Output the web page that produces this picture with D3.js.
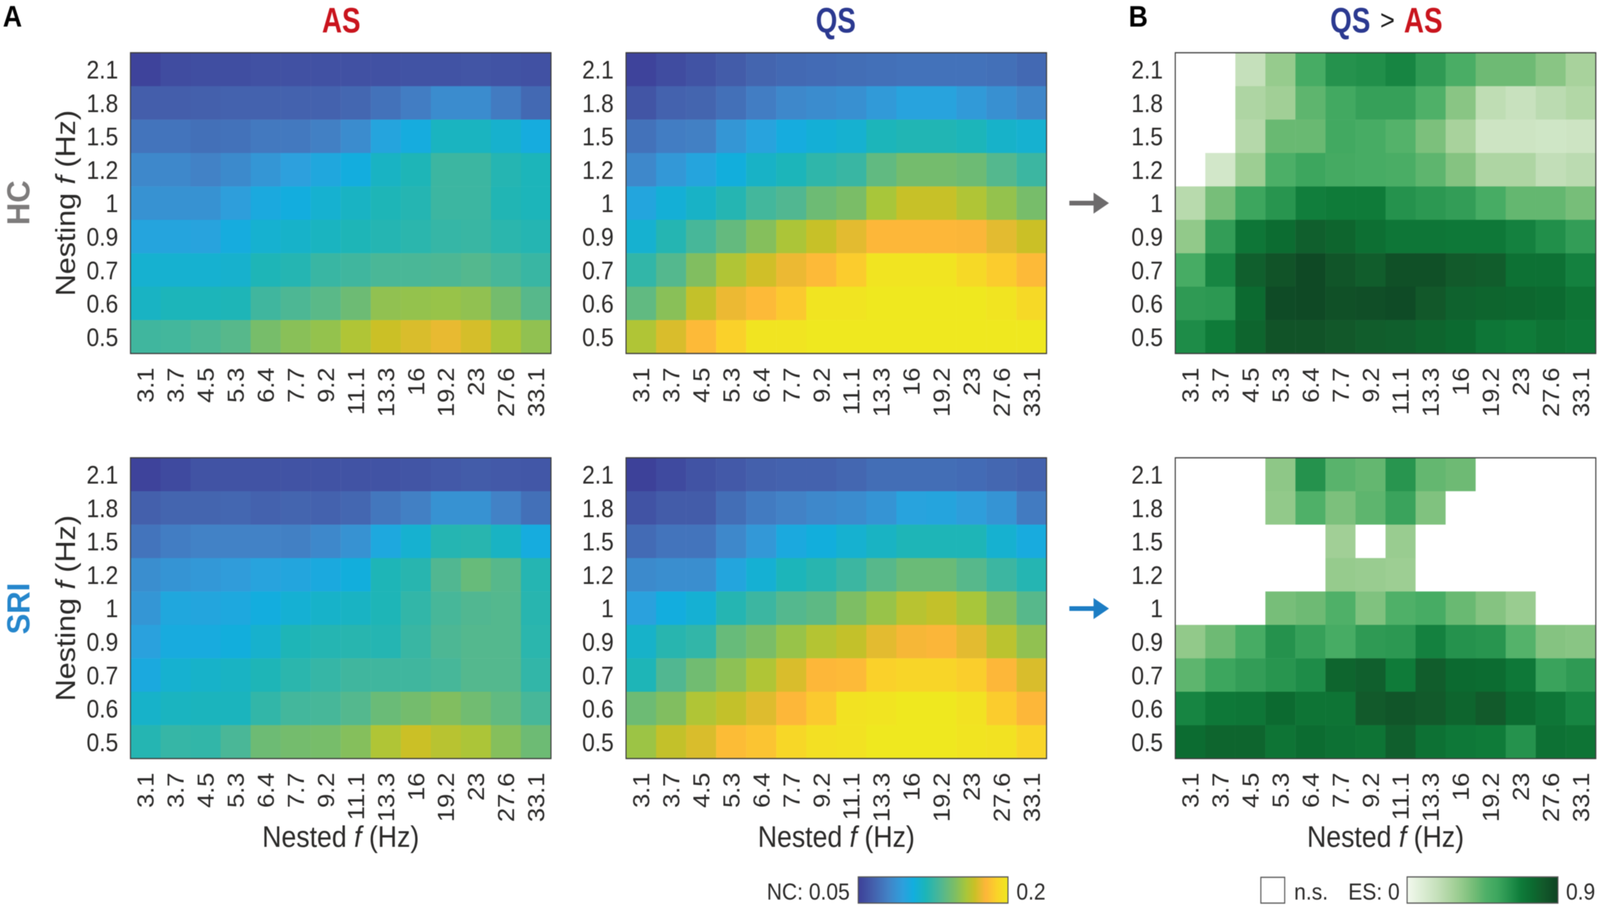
<!DOCTYPE html>
<html>
<head>
<meta charset="utf-8">
<script src="https://cdn.jsdelivr.net/npm/d3@7"></script>
<style>
html, body { margin: 0; padding: 0; background: #fff; overflow: hidden; }
svg { display: block; width: 100vw; height: 100vh; filter: blur(1.3px); }
text { font-family: "Liberation Sans", Arial, sans-serif; fill: #2b2a29; }
</style>
</head>
<body>
<svg viewBox="0 0 4562 2322" preserveAspectRatio="none"></svg>
<script>
var nestedFreq = ["3.1","3.7","4.5","5.3","6.4","7.7","9.2","11.1","13.3","16","19.2","23","27.6","33.1"];
var nestingFreq = ["2.1","1.8","1.5","1.2","1","0.9","0.7","0.6","0.5"];

// NC values, rows from 2.1 Hz down to 0.5 Hz
var asHC = [
  [.052,.056,.057,.057,.058,.058,.058,.058,.058,.059,.059,.060,.059,.058],
  [.064,.064,.065,.066,.066,.066,.066,.068,.073,.078,.085,.085,.077,.069],
  [.074,.074,.072,.073,.076,.076,.079,.085,.098,.104,.115,.115,.111,.104],
  [.083,.083,.080,.084,.090,.095,.100,.105,.114,.118,.127,.127,.120,.117],
  [.088,.088,.088,.094,.102,.105,.110,.114,.118,.120,.127,.127,.119,.117],
  [.098,.098,.097,.104,.110,.112,.115,.118,.120,.122,.125,.126,.122,.120],
  [.110,.110,.110,.111,.118,.120,.126,.128,.131,.131,.132,.134,.130,.126],
  [.114,.117,.117,.118,.128,.132,.136,.142,.152,.153,.154,.152,.144,.135],
  [.128,.129,.132,.135,.145,.150,.153,.160,.167,.170,.173,.169,.159,.152]
];
var qsHC = [
  [.052,.056,.059,.063,.067,.069,.070,.071,.072,.073,.073,.073,.072,.069],
  [.060,.066,.067,.072,.078,.083,.085,.087,.092,.097,.097,.092,.087,.082],
  [.073,.078,.079,.090,.097,.104,.108,.110,.117,.119,.119,.117,.112,.110],
  [.083,.091,.098,.106,.113,.117,.123,.126,.138,.144,.144,.142,.134,.127],
  [.099,.108,.113,.120,.129,.133,.142,.146,.158,.166,.166,.160,.153,.145],
  [.110,.120,.130,.139,.149,.159,.166,.172,.178,.178,.178,.177,.172,.167],
  [.124,.134,.148,.160,.168,.174,.179,.186,.198,.198,.198,.192,.186,.179],
  [.138,.150,.165,.174,.179,.185,.198,.198,.200,.200,.200,.200,.198,.192],
  [.160,.170,.179,.188,.198,.198,.200,.200,.200,.200,.200,.200,.200,.200]
];
var asSRI = [
  [.052,.055,.059,.059,.059,.059,.059,.059,.059,.060,.062,.063,.062,.061],
  [.065,.067,.067,.068,.066,.067,.066,.068,.075,.079,.088,.088,.080,.072],
  [.074,.078,.080,.080,.080,.079,.083,.088,.101,.110,.120,.121,.114,.104],
  [.086,.089,.091,.093,.097,.099,.102,.106,.118,.121,.133,.140,.135,.120],
  [.090,.100,.099,.101,.105,.109,.112,.114,.118,.124,.130,.133,.134,.121],
  [.096,.103,.103,.106,.111,.118,.120,.121,.120,.126,.132,.134,.134,.122],
  [.102,.110,.112,.114,.118,.122,.125,.128,.128,.128,.130,.134,.134,.124],
  [.112,.115,.116,.116,.124,.129,.130,.134,.141,.144,.148,.143,.138,.130],
  [.120,.125,.124,.131,.142,.144,.145,.149,.160,.167,.162,.159,.149,.142]
];
var qsSRI = [
  [.051,.055,.059,.062,.065,.066,.066,.068,.071,.071,.071,.070,.068,.066],
  [.059,.063,.063,.071,.077,.080,.083,.085,.089,.097,.098,.094,.089,.077],
  [.070,.074,.074,.083,.091,.102,.106,.110,.114,.118,.118,.118,.110,.103],
  [.084,.086,.086,.099,.109,.117,.121,.127,.135,.141,.141,.135,.127,.120],
  [.096,.105,.109,.120,.127,.134,.137,.147,.154,.162,.165,.158,.147,.135],
  [.112,.121,.124,.140,.146,.154,.161,.165,.172,.176,.177,.172,.163,.152],
  [.118,.133,.143,.151,.160,.170,.178,.179,.188,.190,.190,.187,.178,.170],
  [.142,.148,.160,.165,.171,.178,.185,.197,.198,.200,.200,.197,.186,.178],
  [.155,.165,.170,.180,.183,.191,.196,.197,.200,.200,.200,.198,.197,.190]
];

// effect sizes, null = n.s.
var esHC = [
  [null,null,.18,.32,.50,.61,.62,.65,.58,.49,.41,.41,.35,.27],
  [null,null,.25,.29,.44,.52,.56,.56,.47,.35,.20,.17,.21,.24],
  [null,null,.23,.42,.42,.52,.50,.46,.38,.27,.15,.15,.14,.15],
  [null,.13,.30,.48,.54,.51,.50,.49,.44,.36,.25,.25,.19,.21],
  [.22,.39,.54,.60,.67,.68,.68,.61,.59,.57,.50,.43,.43,.39],
  [.33,.57,.70,.74,.79,.77,.73,.70,.70,.69,.69,.66,.62,.57],
  [.50,.65,.79,.84,.88,.83,.80,.85,.85,.81,.80,.72,.72,.66],
  [.58,.59,.75,.87,.88,.85,.86,.87,.82,.78,.77,.76,.75,.71],
  [.63,.68,.77,.84,.84,.82,.80,.79,.77,.75,.70,.68,.71,.69]
];
var esSRI = [
  [null,null,null,.34,.61,.45,.43,.60,.43,.41,null,null,null,null],
  [null,null,null,.33,.47,.38,.44,.55,.37,null,null,null,null,null],
  [null,null,null,null,null,.29,null,.31,null,null,null,null,null,null],
  [null,null,null,null,null,.32,.31,.30,null,null,null,null,null,null],
  [null,null,null,.39,.41,.47,.37,.47,.50,.42,.36,.31,null,null],
  [.33,.41,.50,.61,.56,.50,.58,.59,.66,.61,.60,.46,.36,.35],
  [.44,.54,.57,.60,.63,.77,.79,.68,.80,.75,.74,.69,.55,.58],
  [.65,.69,.70,.75,.71,.71,.81,.83,.81,.77,.81,.74,.70,.65],
  [.74,.77,.77,.71,.74,.72,.71,.79,.72,.69,.68,.61,.72,.71]
];

var ncDomain = [.05,.065,.08,.095,.1055,.1175,.1325,.1475,.158,.167,.1775,.188,.2];
var ncColors = ["#3d3f98","#4460ac","#4282c6","#2da0dd","#12aede","#1cb5b8","#4fb793","#7fbe62","#a8c63a","#cbc026","#fdb63a","#fad12a","#efe81f"];
var esDomain = [0,.09,.18,.27,.33,.40,.47,.54,.63,.675,.75,.81,.9];
var esColors = ["#f3f9ee","#dcedd4","#c5e0bb","#a8d29c","#92c98a","#73bc76","#4fb068","#3da65e","#1e8c48","#0f7c3a","#0c6a30","#125a2b","#0e4423"];

var ncColor = d3.scaleLinear().domain(ncDomain).range(ncColors);
var esColor = d3.scaleLinear().domain(esDomain).range(esColors);

var svg = d3.select("svg");
var panelW = 1199, panelH = 770;

function heatmap(left, top, values, color, yTitle, xTitle) {
    var xScale = d3.scaleBand().domain(nestedFreq).range([0, panelW]);
    var yScale = d3.scaleBand().domain(nestingFreq).range([0, panelH]);
    var g = svg.append("g").attr("transform", "translate(" + left + "," + top + ")");

    values.forEach(function(row, i) {
        g.selectAll(".r" + i)
            .data(row)
            .enter().append("rect")
            .attr("x", function(d, j) { return xScale(nestedFreq[j]); })
            .attr("y", yScale(nestingFreq[i]))
            .attr("width", xScale.bandwidth() + 0.5)
            .attr("height", yScale.bandwidth() + 0.5)
            .attr("fill", function(d) { return d === null ? "#fff" : color(d); });
    });

    g.append("rect")
        .attr("width", panelW).attr("height", panelH)
        .attr("fill", "none").attr("stroke", "#3c3c3c").attr("stroke-width", 3);

    var yAxis = g.append("g").call(d3.axisLeft(yScale).tickSize(0).tickPadding(35));
    yAxis.select(".domain").remove();
    yAxis.selectAll("text").attr("font-size", 65).style("font-family", "Liberation Sans").attr("dy", "0.36em");

    var xAxis = g.append("g").attr("transform", "translate(0," + panelH + ")")
        .call(d3.axisBottom(xScale).tickSize(0));
    xAxis.select(".domain").remove();
    xAxis.selectAll("text")
        .attr("font-size", 65)
        .style("font-family", "Liberation Sans")
        .attr("text-anchor", "end")
        .attr("transform", "rotate(-90)")
        .attr("x", -36).attr("y", 0).attr("dy", "0.36em");

    if (yTitle) {
        var t = g.append("text")
            .attr("transform", "translate(-158," + (panelH / 2) + ") rotate(-90)")
            .attr("text-anchor", "middle").attr("font-size", 78);
        t.append("tspan").text("Nesting ");
        t.append("tspan").attr("font-style", "italic").text("f");
        t.append("tspan").text(" (Hz)");
    }
    if (xTitle) {
        var t2 = g.append("text")
            .attr("x", panelW / 2).attr("y", panelH + 226)
            .attr("text-anchor", "middle").attr("font-size", 76);
        t2.append("tspan").text("Nested ");
        t2.append("tspan").attr("font-style", "italic").text("f");
        t2.append("tspan").text(" (Hz)");
    }
}

var col1 = 372, col2 = 1785, col3 = 3351, row1 = 135, row2 = 1172;
heatmap(col1, row1, asHC, ncColor, true, false);
heatmap(col2, row1, qsHC, ncColor, false, false);
heatmap(col3, row1, esHC, esColor, false, false);
heatmap(col1, row2, asSRI, ncColor, true, true);
heatmap(col2, row2, qsSRI, ncColor, false, true);
heatmap(col3, row2, esSRI, esColor, false, true);

function label(x, y, str, size, fill, anchor) {
    return svg.append("text").attr("x", x).attr("y", y).text(str)
        .attr("font-size", size)
        .attr("text-anchor", anchor || "start")
        .style("fill", fill);
}

// condensed bold headings, there is no narrow font to use
function heading(x, y, str, fill, rotate) {
    svg.append("text")
        .attr("transform", "translate(" + x + "," + y + ")" + (rotate ? " rotate(-90)" : "") + " scale(0.88,1)")
        .attr("text-anchor", "middle")
        .attr("font-size", 90)
        .attr("font-weight", "bold")
        .style("fill", fill)
        .text(str);
}

// panel letters and column titles
label(8, 68, "A", 76, "#000").attr("font-weight", "bold");
label(3218, 68, "B", 76, "#000").attr("font-weight", "bold");
heading(973, 83, "AS", "#c9141d");
heading(2383, 83, "QS", "#2b3990");
heading(3850, 83, "QS", "#2b3990");
label(3956, 76, ">", 72, "#1a1a1a", "middle");
heading(4058, 83, "AS", "#c9141d");

// row labels
heading(83, 519, "HC", "#7d7b7b", true);
heading(83, 1558, "SRI", "#2586cc", true);

// arrows between the panels
function arrow(y, fill) {
    svg.append("rect").attr("x", 3049).attr("y", y - 6).attr("width", 75).attr("height", 12).attr("fill", fill);
    svg.append("path").attr("d", "M3118," + (y - 27) + "L3162," + y + "L3118," + (y + 27) + "Z").attr("fill", fill);
}
arrow(520, "#6d6b6c");
arrow(1558, "#1c7dc4");

// colour bars
var defs = svg.append("defs");
function colorBar(id, x, y, w, h, domain, colors) {
    var scale = d3.scaleLinear().domain([domain[0], domain[domain.length - 1]]).range([0, 100]);
    var grad = defs.append("linearGradient").attr("id", id);
    grad.selectAll("stop").data(domain).enter().append("stop")
        .attr("offset", function(d) { return scale(d) + "%"; })
        .attr("stop-color", function(d, i) { return colors[i]; });
    svg.append("rect").attr("x", x).attr("y", y).attr("width", w).attr("height", h)
        .attr("fill", "url(#" + id + ")").attr("stroke", "#555").attr("stroke-width", 3);
}
colorBar("ncGrad", 2447, 2245, 427, 67, ncDomain, ncColors);
colorBar("esGrad", 4012, 2245, 430, 67, esDomain, esColors);

svg.append("rect").attr("x", 3595).attr("y", 2246).attr("width", 68).attr("height", 66)
    .attr("fill", "#fff").attr("stroke", "#555").attr("stroke-width", 3);

label(2423, 2303, "NC: 0.05", 60, "#2b2a29", "end");
label(2898, 2303, "0.2", 60, "#2b2a29");
label(3690, 2303, "n.s.", 60, "#2b2a29");
label(3991, 2303, "ES: 0", 60, "#2b2a29", "end");
label(4465, 2303, "0.9", 60, "#2b2a29");
</script>
</body>
</html>
